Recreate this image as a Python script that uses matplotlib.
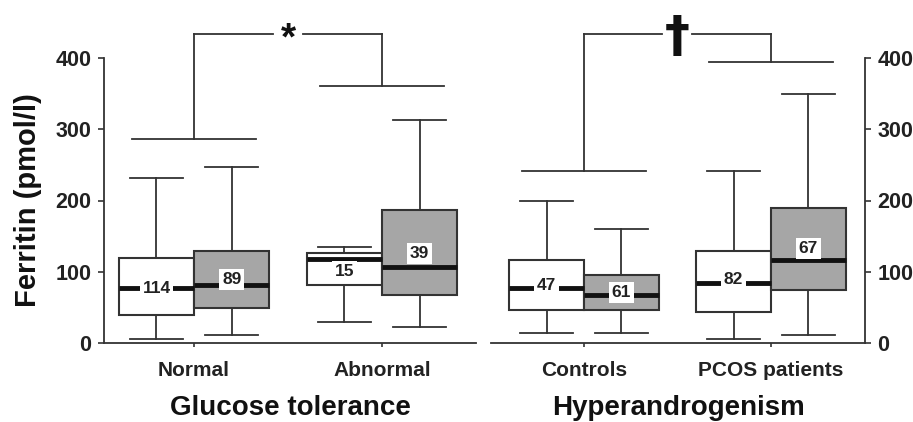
import matplotlib
matplotlib.use("Agg")
import matplotlib.pyplot as plt
from matplotlib.patches import Rectangle

plt.rcParams['font.family'] = ['Liberation Sans', 'DejaVu Sans']
plt.rcParams['font.weight'] = 'bold'
plt.rcParams['axes.labelweight'] = 'bold'

LINE = '#333333'
GREY = '#a6a6a6'

# box stats: whisker low, q1, median, q3, whisker high
glucose_groups = ['Normal', 'Abnormal']
glucose_white = [(6, 39, 77, 120, 231), (30, 81, 118, 126, 135)]
glucose_grey = [(11, 49, 82, 129, 247), (22, 67, 106, 186, 313)]
glucose_n_white = [114, 15]
glucose_n_grey = [89, 39]
glucose_lab_white = [77, 101]
glucose_lab_grey = [89, 126]

andro_groups = ['Controls', 'PCOS patients']
andro_white = [(14, 47, 77, 116, 199), (6, 43, 84, 129, 242)]
andro_grey = [(14, 47, 68, 96, 160), (11, 75, 116, 190, 350)]
andro_n_white = [47, 82]
andro_n_grey = [61, 67]
andro_lab_white = [80, 89]
andro_lab_grey = [71, 133]

# significance brackets: (y of lower bars, y of top bar)
glucose_bracket = (286, 361, 434)
andro_bracket = (242, 395, 434)

fig = plt.figure(figsize=(9.13, 4.22), dpi=100)
W, H = 913.0, 422.0
y_bot = 1 - 343 / H
y_h = (343 - 58) / H
axL = fig.add_axes([104 / W, y_bot, (476 - 104) / W, y_h])
axR = fig.add_axes([491 / W, y_bot, (865 - 491) / W, y_h])

BW = 0.4


def draw_box(ax, x, st, color):
    lo, q1, med, q3, hi = st
    ax.add_patch(Rectangle((x - BW / 2, q1), BW, q3 - q1, facecolor=color,
                           edgecolor=LINE, lw=1.5, zorder=2))
    ax.plot([x, x], [q3, hi], color=LINE, lw=1.3, zorder=1)
    ax.plot([x, x], [lo, q1], color=LINE, lw=1.3, zorder=1)
    cw = BW * 0.7
    ax.plot([x - cw / 2, x + cw / 2], [hi, hi], color=LINE, lw=1.3)
    ax.plot([x - cw / 2, x + cw / 2], [lo, lo], color=LINE, lw=1.3)
    ax.plot([x - BW / 2, x + BW / 2], [med, med], color='#111111', lw=3.5,
            zorder=3, solid_capstyle='butt')


def panel(ax, groups, white, grey, nw, ng, lw_, lg, bracket, mark, xlabel):
    pos = [1, 2]
    for i, p in enumerate(pos):
        draw_box(ax, p - BW / 2, white[i], 'white')
        draw_box(ax, p + BW / 2, grey[i], GREY)
        ax.text(p - BW / 2, lw_[i], str(nw[i]), ha='center', va='center',
                fontsize=12.5, color='#222222', zorder=4,
                bbox=dict(facecolor='white', edgecolor='none', pad=2))
        ax.text(p + BW / 2, lg[i], str(ng[i]), ha='center', va='center',
                fontsize=12.5, color='#222222', zorder=4,
                bbox=dict(facecolor='white', edgecolor='none', pad=2))
    # brackets
    b1, b2, top = bracket
    half = 0.33
    for p, b in zip(pos, (b1, b2)):
        ax.plot([p - half, p + half], [b, b], color=LINE, lw=1.3, clip_on=False)
        ax.plot([p, p], [b, top], color=LINE, lw=1.3, clip_on=False)
    mid = 1.5
    gap = 0.08
    ax.plot([1, mid - gap], [top, top], color=LINE, lw=1.3, clip_on=False)
    ax.plot([mid + gap, 2], [top, top], color=LINE, lw=1.3, clip_on=False)
    ax.text(mid, top + mark[2], mark[0], ha='center', va='center',
            fontsize=mark[1], color='#111111', clip_on=False,
            family=mark[3])

    ax.set_ylim(0, 400)
    ax.set_yticks([0, 100, 200, 300, 400])
    ax.set_xticks(pos)
    ax.set_xticklabels(groups, fontsize=15, color='#222222')
    ax.set_xlabel(xlabel, fontsize=20, color='#111111', labelpad=11)
    ax.tick_params(axis='x', length=3, width=1.2, color=LINE, pad=10)
    ax.tick_params(axis='y', length=4, width=1.2, color=LINE,
                   labelsize=15.5, labelcolor='#222222', pad=5)
    for s in ax.spines.values():
        s.set_color(LINE)
        s.set_linewidth(1.3)
    ax.spines['top'].set_visible(False)


panel(axL, glucose_groups, glucose_white, glucose_grey, glucose_n_white,
      glucose_n_grey, glucose_lab_white, glucose_lab_grey, glucose_bracket,
      ('*', 28, -8, 'Liberation Sans'), 'Glucose tolerance')
axL.set_xlim(0.521, 2.5)
axL.spines['right'].set_visible(False)

panel(axR, andro_groups, andro_white, andro_grey, andro_n_white,
      andro_n_grey, andro_lab_white, andro_lab_grey, andro_bracket,
      ('†', 36, -4, 'DejaVu Sans'), 'Hyperandrogenism')
axR.set_xlim(0.503, 2.503)
axR.spines['left'].set_visible(False)
axR.yaxis.tick_right()

axL.set_ylabel('Ferritin (pmol/l)', fontsize=21, color='#111111', labelpad=10)

fig.savefig('out.png', dpi=100)
